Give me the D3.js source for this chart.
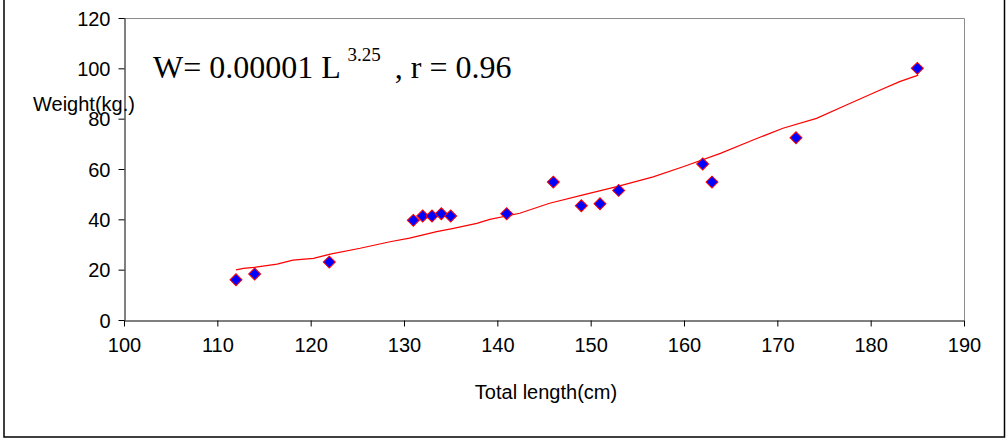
<!DOCTYPE html>
<html>
<head>
<meta charset="utf-8">
<script src="https://cdn.jsdelivr.net/npm/d3@7"></script>
<style>
  body { margin: 0; background: #fff; }
  svg { display: block; }
  text { font-family: "Liberation Sans", Arial, sans-serif; fill: #000; }
</style>
</head>
<body>
<svg id="chart" width="1006" height="439"></svg>
<script>
// Observed lengths (cm) and weights (kg)
var lengths = [112, 114, 122, 131, 132, 133, 134, 135, 141, 146, 149, 151, 153, 162, 163, 172, 185];
var weights = [16, 18.3, 23, 39.6, 41.3, 41.3, 42.2, 41.3, 42.2, 54.8, 45.4, 46.2, 51.5, 62, 54.8, 72.4, 100];

// Fitted curve as drawn
var fitL = [112, 112.8, 113.9, 116.4, 118.1, 120.3, 122.1, 125.3, 128.5, 130.6, 133.5, 135.3, 137.8,
            139.2, 142.4, 145.6, 149.2, 152.8, 156.7, 159.9, 163.9, 167.4, 170.6, 174.2, 177.4, 180.6, 183.1, 185.1];
var fitW = [19.9, 20.5, 20.9, 22.2, 23.8, 24.5, 26.2, 28.5, 31.1, 32.5, 35.1, 36.4, 38.4,
            40.0, 42.4, 46.4, 49.7, 53.0, 56.9, 60.9, 66.2, 71.5, 76.2, 80.1, 85.4, 90.7, 94.7, 97.3];

var xTicks = [100, 110, 120, 130, 140, 150, 160, 170, 180, 190];
var yTicks = [0, 20, 40, 60, 80, 100, 120];

var svg = d3.select('#chart');

// Outer frame
svg.append('rect')
    .attr('x', 4).attr('y', -2)
    .attr('width', 1000.5).attr('height', 439)
    .attr('fill', 'none')
    .attr('stroke', '#000')
    .attr('stroke-width', 1.5);

var plot = {left: 124, right: 964, top: 18, bottom: 320};

var x = d3.scaleLinear().domain([100, 190]).range([plot.left, plot.right]);
var y = d3.scaleLinear().domain([0, 120]).range([plot.bottom, plot.top]);

// Plot area border (top and right, grey)
svg.append('path')
    .attr('d', 'M' + plot.left + ',' + (plot.top + 0.5) + 'H' + (plot.right + 0.5) + 'V' + plot.bottom)
    .attr('fill', 'none')
    .attr('stroke', '#8c8c8c')
    .attr('stroke-width', 1);

// Y axis
var yAxis = svg.append('g')
    .attr('transform', 'translate(' + (plot.left + 0.5) + ',0)')
    .call(d3.axisLeft(y).tickValues(yTicks).tickSize(6).tickSizeOuter(0));
yAxis.select('.domain').attr('stroke', '#000');
yAxis.selectAll('.tick line').attr('stroke', '#000');
yAxis.selectAll('text')
    .style('font-family', '"Liberation Sans", Arial, sans-serif')
    .attr('font-size', 20)
    .attr('x', -14)
    .attr('dy', '0.35em');

// X axis
var xAxis = svg.append('g')
    .attr('transform', 'translate(0,' + (plot.bottom + 0.5) + ')')
    .call(d3.axisBottom(x).tickValues(xTicks).tickSize(6).tickSizeOuter(0));
xAxis.select('.domain').attr('stroke', '#000');
xAxis.selectAll('.tick line').attr('stroke', '#000');
xAxis.selectAll('text')
    .style('font-family', '"Liberation Sans", Arial, sans-serif')
    .attr('font-size', 20)
    .attr('y', 17)
    .attr('dy', '0.71em');

// Fitted line
var line = d3.line()
    .x(function(d){ return x(d[0]) })
    .y(function(d){ return y(d[1]) });

svg.append('path')
    .datum(d3.zip(fitL, fitW))
    .attr('fill', 'none')
    .attr('stroke', '#ff0000')
    .attr('stroke-width', 1.2)
    .attr('d', line);

// Diamond markers
var diamond = d3.symbol().type(d3.symbolSquare).size(72);
svg.append('g')
    .selectAll('path')
    .data(d3.zip(lengths, weights))
    .enter()
    .append('path')
    .attr('d', diamond)
    .attr('transform', function(d){ return 'translate(' + x(d[0]) + ',' + y(d[1]) + ') rotate(45)' })
    .attr('fill', '#0000ff')
    .attr('stroke', '#ff0000')
    .attr('stroke-width', 1);

// Equation
var eq = svg.append('text')
    .attr('x', 153)
    .attr('y', 78)
    .style('font-family', '"Liberation Serif", "Times New Roman", serif')
    .attr('font-size', 32);
eq.append('tspan').text('W= 0.00001 L ');
eq.append('tspan').attr('font-size', 19).attr('dy', -17).text('3.25');
eq.append('tspan').attr('dy', 17).attr('dx', 6).text(' , r = 0.96');

// Axis titles
svg.append('text')
    .attr('x', 33)
    .attr('y', 111)
    .attr('font-size', 20)
    .text('Weight(kg.)');

svg.append('text')
    .attr('x', 546)
    .attr('y', 399)
    .attr('text-anchor', 'middle')
    .attr('font-size', 20)
    .text('Total length(cm)');
</script>
</body>
</html>
